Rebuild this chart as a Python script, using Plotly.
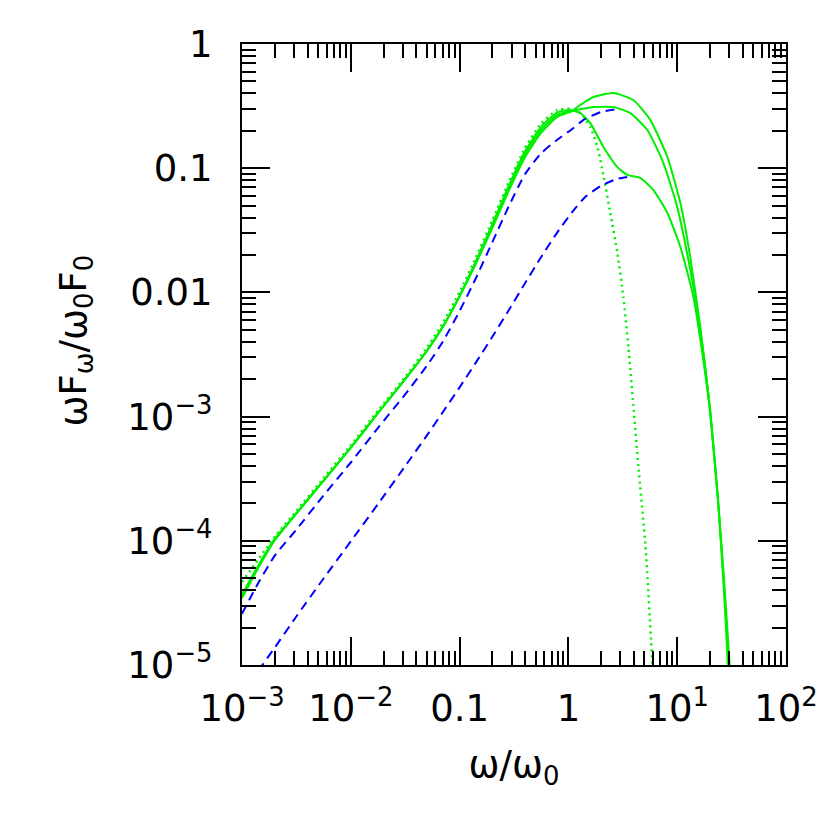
import plotly.graph_objects as go

# shared x grid for the rising part of the spectra
x_rise = [1e-3, 1.41e-3, 2.0e-3, 3.16e-3, 5.62e-3, 0.01, 0.0178, 0.0316, 0.0501, 0.0708,
          0.1, 0.141, 0.2, 0.282, 0.398, 0.562, 0.794]

# green solid, highest peak
xa = x_rise + [1.10, 1.21, 1.70, 2.59, 3.96, 5.67, 8.13, 10.7, 13.2, 16.3, 20.2, 23.9, 26.9,
               29.6, 32.4]
ya = [3.46e-5, 6.03e-5, 1.01e-4, 1.66e-4, 3.05e-4, 5.62e-4, 1.07e-3, 2.0e-3, 3.39e-3, 5.37e-3,
      9.33e-3, 0.0170, 0.0331, 0.0653, 0.122, 0.193, 0.260,
      0.290, 0.311, 0.374, 0.403, 0.354, 0.244, 0.123, 0.0525, 0.0191, 5.25e-3, 1.07e-3,
      1.95e-4, 5.01e-5, 1.41e-5, 3.98e-6]

# green solid, flat top (joins the upper dashed curve)
xb = x_rise + [1.10, 1.21, 1.70, 2.59, 3.71, 5.32, 7.47, 10.0, 13.2, 16.3, 20.2, 23.9, 26.9,
               29.6, 31.6]
yb = [3.58e-5, 6.17e-5, 1.02e-4, 1.66e-4, 3.05e-4, 5.62e-4, 1.07e-3, 2.0e-3, 3.39e-3, 5.37e-3,
      9.33e-3, 0.0174, 0.0343, 0.0684, 0.129, 0.204, 0.269,
      0.290, 0.295, 0.311, 0.311, 0.278, 0.203, 0.110, 0.0488, 0.0151, 5.0e-3, 1.07e-3,
      2.0e-4, 4.37e-5, 1.15e-5, 3.98e-6]

# green solid with shoulder (joins the lower dashed curve)
xc = x_rise + [1.04, 1.29, 1.59, 2.10, 2.82, 3.48, 4.58, 6.04, 8.13, 10.7, 14.1, 17.4, 20.2,
               23.9, 26.9, 29.2, 30.9]
yc = [3.70e-5, 6.31e-5, 1.04e-4, 1.66e-4, 3.05e-4, 5.62e-4, 1.07e-3, 2.0e-3, 3.39e-3, 5.37e-3,
      9.33e-3, 0.0178, 0.0355, 0.0716, 0.136, 0.216, 0.282,
      0.294, 0.277, 0.231, 0.148, 0.102, 0.0883, 0.0834, 0.0667, 0.0436, 0.0232, 9.19e-3,
      2.82e-3, 1.02e-3, 1.91e-4, 3.98e-5, 1.0e-5, 3.98e-6]

# green dotted
xd = x_rise + [1.04, 1.29, 1.59, 1.85, 2.10, 2.43, 2.82, 3.20, 3.56, 3.95, 4.40, 5.11, 5.92,
               6.24]
yd = [4.66e-5, 7.08e-5, 1.08e-4, 1.74e-4, 3.20e-4, 5.89e-4, 1.12e-3, 2.09e-3, 3.59e-3, 5.75e-3,
      0.0101, 0.0191, 0.0380, 0.0767, 0.145, 0.229, 0.295,
      0.300, 0.278, 0.215, 0.148, 0.0871, 0.0436, 0.0207, 9.18e-3, 3.63e-3, 1.24e-3, 3.93e-4,
      9.12e-5, 1.0e-5, 3.98e-6]

# blue dashed, upper
xu = x_rise + [1.10, 1.41, 2.0, 2.82]
yu = [2.59e-5, 4.57e-5, 7.59e-5, 1.23e-4, 2.32e-4, 4.27e-4, 8.13e-4, 1.51e-3, 2.57e-3, 4.07e-3,
      7.08e-3, 0.0130, 0.0254, 0.0490, 0.0891, 0.132, 0.170,
      0.209, 0.248, 0.284, 0.300]

# blue dashed, lower
xl = [1.41e-3, 2.0e-3, 3.16e-3, 5.62e-3, 0.01, 0.0178, 0.0316, 0.0501, 0.0708, 0.1, 0.141,
      0.2, 0.282, 0.398, 0.562, 0.794, 1.10, 1.41, 2.0, 2.82, 3.47]
yl = [8.97e-6, 1.38e-5, 2.46e-5, 4.97e-5, 9.9e-5, 1.98e-4, 3.99e-4, 7.06e-4, 1.10e-3, 1.72e-3,
      2.72e-3, 4.39e-3, 7.16e-3, 0.0118, 0.0193, 0.0306, 0.0451, 0.0581, 0.0724, 0.0822, 0.0851]

xticks = [1e-3, 1e-2, 0.1, 1, 10, 100]
xlabels = ["10<sup>−3</sup>", "10<sup>−2</sup>", "0.1", "1", "10<sup>1</sup>", "10<sup>2</sup>"]
yticks = [1e-5, 1e-4, 1e-3, 0.01, 0.1, 1]
ylabels = ["10<sup>−5</sup>", "10<sup>−4</sup>", "10<sup>−3</sup>", "0.01", "0.1", "1"]

green = "#00ee00"
blue = "#0000ff"

fig = go.Figure()

for x, y in [(xa, ya), (xb, yb), (xc, yc)]:
    fig.add_trace(go.Scatter(x=x, y=y, mode="lines",
                             line=dict(color=green, width=2, shape="spline", smoothing=0.5)))

fig.add_trace(go.Scatter(x=xd, y=yd, mode="lines",
                         line=dict(color=green, width=2.5, dash="2px,4px",
                                   shape="spline", smoothing=0.5)))

for x, y in [(xu, yu), (xl, yl)]:
    fig.add_trace(go.Scatter(x=x, y=y, mode="lines",
                             line=dict(color=blue, width=2, dash="9px,6px",
                                       shape="spline", smoothing=0.5)))

label_font = dict(family="DejaVu Sans", size=37, color="black")

axis_common = dict(
    type="log",
    showline=True, linecolor="black", linewidth=2, mirror="allticks",
    ticks="inside", ticklen=28, tickwidth=2, tickcolor="black",
    showgrid=False, zeroline=False,
    minor=dict(ticks="inside", ticklen=14, tickwidth=2, tickcolor="black",
               dtick="D1", showgrid=False),
    tickfont=label_font,
)

fig.update_xaxes(**axis_common, range=[-3, 2], tickvals=xticks, ticktext=xlabels,
                 ticklabelstandoff=10,
                 title=dict(text="ω/ω<sub>0</sub>", font=label_font, standoff=22))
fig.update_yaxes(**axis_common, range=[-5, 0], tickvals=yticks, ticktext=ylabels,
                 ticklabelstandoff=20)

# y title placed by hand so it sits a little above the middle, as in the original
fig.add_annotation(text="ωF<sub>ω</sub>/ω<sub>0</sub>F<sub>0</sub>", textangle=-90,
                   xref="paper", yref="paper", x=0, y=0.5,
                   xanchor="center", yanchor="middle", xshift=-167, yshift=14,
                   showarrow=False, font=label_font)

fig.update_layout(
    width=830, height=830,
    margin=dict(l=234, r=52, t=36, b=173),
    plot_bgcolor="white", paper_bgcolor="white",
    showlegend=False,
)

fig.write_html("out.html")
